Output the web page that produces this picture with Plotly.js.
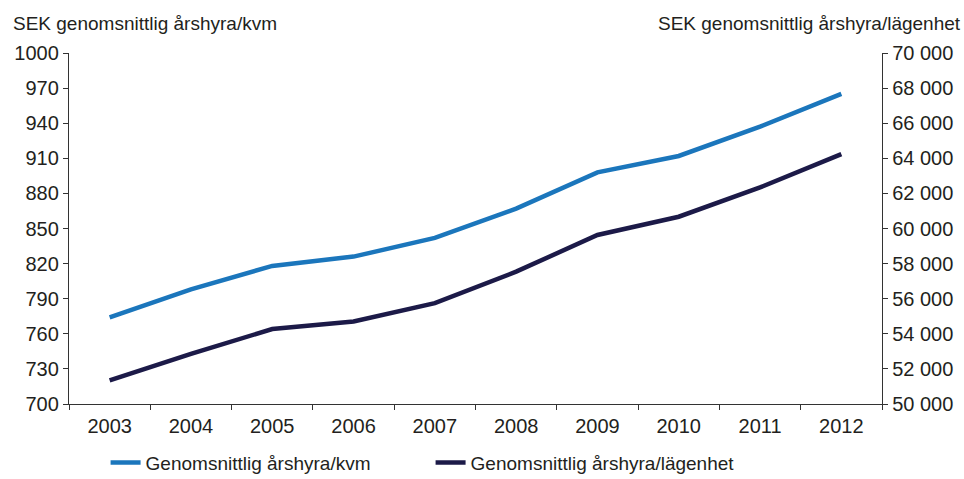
<!DOCTYPE html>
<html><head><meta charset="utf-8">
<script src="https://cdn.plot.ly/plotly-3.0.1.min.js"></script>
<style>html,body{margin:0;padding:0;background:#fff}#chart{width:964px;height:479px}</style>
</head><body><div id="chart"></div>
<script>
const years = ['2003','2004','2005','2006','2007','2008','2009','2010','2011','2012'];
const hyraKvm = [774, 798, 818, 826, 842, 867, 898, 912, 937, 965];
const hyraLgh = [51340, 52860, 54270, 54700, 55750, 57540, 59630, 60670, 62340, 64240];
const leftTitle = 'SEK genomsnittlig årshyra/kvm';
const rightTitle = 'SEK genomsnittlig årshyra/lägenhet';
const nameKvm = 'Genomsnittlig årshyra/kvm';
const nameLgh = 'Genomsnittlig årshyra/lägenhet';

const font = 'Liberation Sans, Arial, sans-serif';
const axisCol = '#333333';
const traces = [
  {x: years, y: hyraKvm, name: nameKvm, type: 'scatter', mode: 'lines', yaxis: 'y',
   line: {color: '#1b76bc', width: 4.5}},
  {x: years, y: hyraLgh, name: nameLgh, type: 'scatter', mode: 'lines', yaxis: 'y2',
   line: {color: '#1c1a48', width: 4.5}}
];
const layout = {
  width: 964, height: 479,
  margin: {l: 69, r: 82, t: 53, b: 75, autoexpand: false},
  paper_bgcolor: '#fff', plot_bgcolor: '#fff',
  separators: '. ',
  font: {family: font, size: 20, color: '#231f20'},
  showlegend: true,
  legend: {orientation: 'h', x: 0.045, xanchor: 'left', y: -0.113, yanchor: 'top',
           entrywidth: 280, entrywidthmode: 'pixels', font: {size: 19}, traceorder: 'normal'},
  xaxis: {type: 'category', tickson: 'boundaries', ticks: 'outside', ticklen: 5, tickcolor: axisCol,
          showline: true, linecolor: axisCol, linewidth: 1.2, showgrid: false, zeroline: false,
          ticklabelstandoff: 4, range: [-0.5, 9.5], fixedrange: true},
  yaxis: {range: [700, 1000], dtick: 30, tick0: 700, ticks: 'outside', ticklen: 5, tickcolor: axisCol,
          showline: true, linecolor: axisCol, linewidth: 1.2, showgrid: false, zeroline: false},
  yaxis2: {range: [50000, 70000], dtick: 2000, tick0: 50000, overlaying: 'y', side: 'right',
           tickformat: ',d',
           ticks: 'outside', ticklen: 5, tickcolor: axisCol, showline: true, linecolor: axisCol,
           linewidth: 1.2, showgrid: false, zeroline: false},
  annotations: [
    {text: leftTitle, xref: 'paper', yref: 'paper', x: -0.071, y: 1.085, xanchor: 'left', yanchor: 'middle',
     showarrow: false, font: {size: 19}},
    {text: rightTitle, xref: 'paper', yref: 'paper', x: 1.1, y: 1.085, xanchor: 'right', yanchor: 'middle',
     showarrow: false, font: {size: 19}}
  ]
};
Plotly.newPlot('chart', traces, layout, {displayModeBar: false, staticPlot: true});
</script></body></html>
